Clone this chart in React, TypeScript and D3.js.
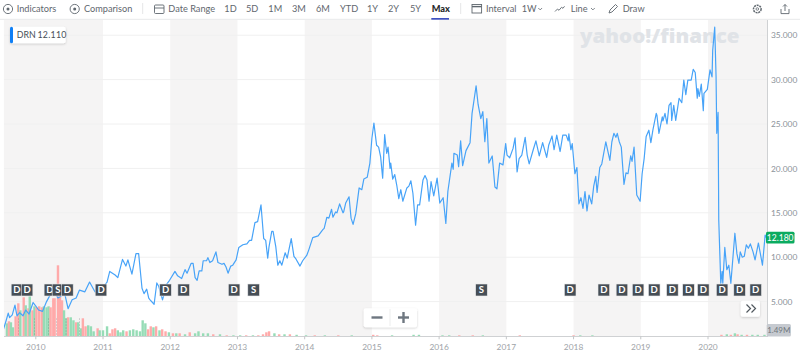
import React from "react";
import * as d3 from "d3";

type P = [number, number];
const line2009to2011: P[] = [[2009.52,1.9],[2009.56,2.9],[2009.59,3.7],[2009.61,3.2],[2009.65,3.5],[2009.69,4.6],[2009.72,3.4],[2009.76,3.75],[2009.81,3.4],[2009.85,4.05],[2009.9,3.6],[2009.96,4.9],[2010,4.5],[2010.04,4.05],[2010.1,3.9],[2010.16,5],[2010.21,5.7],[2010.28,6.1],[2010.33,5.4],[2010.39,5.7],[2010.43,5.9],[2010.48,4.2],[2010.54,5.2],[2010.6,5.4],[2010.65,6.3],[2010.73,6.1],[2010.8,7.2],[2010.88,6.1],[2010.95,6.1],[2011.06,7.2],[2011.1,8.4],[2011.18,8],[2011.22,7.7],[2011.29,9.75],[2011.34,9],[2011.37,9.7],[2011.43,8.1],[2011.49,10.4],[2011.53,10.4],[2011.58,6.5],[2011.61,5.9],[2011.65,6.4],[2011.68,5.4],[2011.7,5.2],[2011.76,4.7],[2011.8,7.1],[2011.83,6.7],[2011.885,5.2],[2011.95,7]];
const line2012to2013: P[] = [[2011.99,7.4],[2012.07,8.4],[2012.11,7.9],[2012.17,7.6],[2012.22,8.6],[2012.25,8.2],[2012.31,9.3],[2012.34,9.3],[2012.37,7.7],[2012.4,7.4],[2012.43,8.45],[2012.47,8.45],[2012.49,9.6],[2012.54,9.6],[2012.56,9.95],[2012.59,9.4],[2012.63,9.6],[2012.68,10.6],[2012.71,9.4],[2012.77,9.2],[2012.8,9.3],[2012.83,8.9],[2012.86,8.2],[2012.9,9],[2012.93,9.1],[2012.98,9.7],[2013.02,11.1],[2013.08,11.4],[2013.14,11.5],[2013.18,11.9],[2013.21,11.9],[2013.26,13.9],[2013.3,14],[2013.35,15.9],[2013.39,12.1],[2013.42,11.9],[2013.45,9.9],[2013.47,11.2],[2013.51,12.9],[2013.53,12.9],[2013.57,11.2],[2013.6,9.1],[2013.63,9.6],[2013.66,9.1],[2013.71,10.5],[2013.74,9.9],[2013.8,12.1],[2013.84,10.1],[2013.87,9.8],[2013.93,9],[2013.97,9.6]];
const line2014to2015: P[] = [[2014.03,10.2],[2014.06,10.8],[2014.12,12.2],[2014.2,12.4],[2014.27,13.1],[2014.29,13.25],[2014.33,14.5],[2014.36,14.4],[2014.4,15.4],[2014.42,14.5],[2014.46,15.1],[2014.48,15],[2014.52,16],[2014.57,15],[2014.58,15.1],[2014.61,16.1],[2014.66,16.8],[2014.69,14.4],[2014.72,13.7],[2014.76,14.9],[2014.81,17.8],[2014.85,17.6],[2014.88,18.8],[2014.93,19],[2014.97,20.6],[2015,23.4],[2015.03,25.1],[2015.07,22.6],[2015.1,22.4],[2015.13,21.3],[2015.16,18.9],[2015.19,23.8],[2015.22,21.7],[2015.24,22.4],[2015.27,20],[2015.28,20.6],[2015.31,18.8],[2015.34,19.3],[2015.37,18.1],[2015.4,16.6],[2015.43,17.6],[2015.46,16.3],[2015.52,17.8],[2015.55,18],[2015.58,18.6],[2015.61,17.2],[2015.65,13.6],[2015.68,15.9],[2015.71,15.9],[2015.76,18.7],[2015.79,19.2],[2015.82,18.7],[2015.85,16.3],[2015.88,18.5],[2015.92,16.9],[2015.97,18.9]];
const line2016to2017: P[] = [[2016.01,16.1],[2016.06,16.7],[2016.1,13.8],[2016.13,17.4],[2016.19,20.6],[2016.21,19.9],[2016.22,21.7],[2016.27,21.5],[2016.29,20.2],[2016.32,23.1],[2016.35,20.3],[2016.4,22],[2016.46,22.9],[2016.49,26.2],[2016.51,27.2],[2016.55,29.3],[2016.58,27.2],[2016.62,25.6],[2016.65,26.4],[2016.68,23],[2016.71,25.6],[2016.74,20.6],[2016.79,21.4],[2016.83,17.9],[2016.86,17.7],[2016.9,20.6],[2016.95,20.4],[2016.99,22.8],[2017.01,21.5],[2017.05,21.2],[2017.1,22.25],[2017.13,23.45],[2017.16,19.6],[2017.19,21.1],[2017.23,21.5],[2017.28,23.5],[2017.31,21.5],[2017.34,20.5],[2017.4,22.1],[2017.44,23.1],[2017.49,21.4],[2017.54,22.9],[2017.6,21.25],[2017.63,22.6],[2017.68,23.65],[2017.71,22.1],[2017.75,23.75],[2017.8,21.9],[2017.84,23.75],[2017.89,23.75],[2017.92,23.1],[2017.93,23.9],[2017.96,22.1],[2017.98,22.8]];
const line2018to2019: P[] = [[2018.02,19.4],[2018.05,20.1],[2018.08,16],[2018.11,16.7],[2018.14,15.5],[2018.17,17.4],[2018.2,15.2],[2018.23,17],[2018.27,16],[2018.3,18],[2018.33,19.1],[2018.35,17.3],[2018.39,20.1],[2018.42,20.5],[2018.48,23],[2018.54,20.9],[2018.57,23],[2018.6,23.95],[2018.63,23.5],[2018.65,23.95],[2018.68,23],[2018.71,22.4],[2018.75,18.2],[2018.78,19.5],[2018.81,19.4],[2018.85,21.4],[2018.87,20.8],[2018.9,22.4],[2018.94,17],[2018.99,16.3],[2019.02,19.4],[2019.05,21.1],[2019.08,23.6],[2019.12,24.3],[2019.15,22.9],[2019.18,24.3],[2019.23,26.2],[2019.24,26],[2019.27,23.95],[2019.32,25.8],[2019.33,25.35],[2019.36,26.2],[2019.39,25],[2019.42,27.1],[2019.45,27.4],[2019.46,25.4],[2019.49,27.1],[2019.52,25.4],[2019.57,27.9],[2019.61,27.4],[2019.64,29.95],[2019.67,28.3],[2019.7,29.95],[2019.75,29.95],[2019.78,31.15],[2019.81,30.8],[2019.84,27.9],[2019.85,29],[2019.87,28.1],[2019.9,29.5],[2019.93,26.5],[2019.94,28.45],[2019.99,28.9]];
const line2020: P[] = [[2020.03,31.1],[2020.06,30.3],[2020.07,33.3],[2020.1,35.9],[2020.12,30.3],[2020.13,23.95],[2020.15,26.3],[2020.16,14.2],[2020.19,7.06],[2020.21,8.4],[2020.22,7.06],[2020.25,11.1],[2020.28,8.6],[2020.31,9.1],[2020.34,7.06],[2020.4,12.7],[2020.43,10.4],[2020.46,9.3],[2020.48,10.6],[2020.51,10],[2020.54,10.1],[2020.57,11.4],[2020.6,11],[2020.63,11.5],[2020.67,10.6],[2020.7,9.7],[2020.75,11.6],[2020.81,9.1],[2020.85,12.5],[2020.87,12.18]];
const priceLine: P[] = [...line2009to2011, ...line2012to2013, ...line2014to2015, ...line2016to2017, ...line2018to2019, ...line2020];

type V = [number, number, number];
const volume2009to2010: V[] = [[2009.57,13,1],[2009.6,15,0],[2009.63,14,1],[2009.66,9,1],[2009.7,20,0],[2009.74,33,0],[2009.77,26,1],[2009.82,39,0],[2009.85,31,1],[2009.89,28,0],[2009.91,40,1],[2009.95,26,0],[2009.98,30,1],[2010.01,29,0],[2010.05,30,0],[2010.09,29,0],[2010.12,30,1],[2010.16,29,1],[2010.19,30,1],[2010.22,29,0],[2010.26,38,0],[2010.28,38,0],[2010.33,71,0],[2010.36,40,0],[2010.39,36,0],[2010.42,26,1],[2010.45,18,1],[2010.48,19,0],[2010.52,19,1],[2010.56,16,1],[2010.6,14,0],[2010.63,14,1],[2010.67,8,1],[2010.7,18,0],[2010.74,10,0],[2010.78,11,1],[2010.82,10,1],[2010.86,5,1],[2010.92,8,0],[2010.95,6,1]];
const volume2011to2012: V[] = [[2011,6,1],[2011.06,10,1],[2011.1,3,0],[2011.14,7,0],[2011.18,8,0],[2011.22,6,1],[2011.26,4,1],[2011.3,6,1],[2011.35,5,0],[2011.4,6,1],[2011.45,7,1],[2011.5,6,1],[2011.55,5,1],[2011.59,16,1],[2011.63,13,1],[2011.67,7,0],[2011.71,10,0],[2011.75,9,1],[2011.79,10,0],[2011.84,6,1],[2011.88,7,0],[2011.93,5,0],[2011.98,4,1],[2012.04,3,0],[2012.09,3,1],[2012.14,3,0],[2012.22,2,1],[2012.29,4,0],[2012.37,3,1],[2012.42,5,1],[2012.49,3,1],[2012.56,3,1],[2012.64,2,0],[2012.74,2,1],[2012.84,1,0],[2012.94,1,1]];
const volume2013to2020: V[] = [[2013.04,1,1],[2013.13,1,0],[2013.23,1,1],[2013.31,1,0],[2013.38,2,0],[2013.43,4,0],[2013.47,5,0],[2013.55,3,1],[2013.62,2,0],[2013.7,2,1],[2013.78,2,0],[2013.88,1.5,1],[2014.02,1,1],[2014.15,1,0],[2014.3,1,1],[2014.5,1,0],[2014.7,1,1],[2015.02,1.5,0],[2015.08,1,0],[2015.3,1,1],[2015.62,1.5,1],[2015.7,1.5,1],[2016.05,1,1],[2016.15,1,1],[2016.3,1,0],[2016.5,1,0],[2016.65,1,1],[2017.2,1,0],[2018,1,0],[2018.1,1,1],[2018.28,1,1],[2020.2,1.5,0],[2020.28,2,1],[2020.34,1.5,0],[2020.4,3,1],[2020.44,2,0],[2020.5,1.5,1],[2020.58,1.5,0],[2020.66,1.5,1],[2020.74,1.5,1],[2020.84,1.49,1]];
const volumeBars: V[] = [...volume2009to2010, ...volume2011to2012, ...volume2013to2020];

const flagDates = [2009.72,2009.87,2010.21,2010.33,2010.47,2010.97,2011.93,2012.2,2012.95,2013.24,2016.63,2017.95,2018.45,2018.72,2018.96,2019.2,2019.47,2019.71,2019.93,2020.21,2020.47,2020.71];
const flagKinds = ["D","D","D","S","D","D","D","D","D","S","S","D","D","D","D","D","D","D","D","D","D","D"];
const dashDates = [2009.74,2009.98,2010.19,2010.31,2010.45,2010.65];
const yearTicks = [2010,2011,2012,2013,2014,2015,2016,2017,2018,2019,2020];
const priceTicks = [5,10,15,20,25,30,35];
const bandEdges: [number, number][] = [[2009.525,2011],[2012,2013],[2014,2015],[2016,2017],[2018,2019],[2020,2020.89]];
const rangeLabels: [string, number][] = [["1D",224.3],["5D",246],["1M",268.3],["3M",292],["6M",316],["YTD",340],["1Y",367],["2Y",388],["5Y",410]];

const x = d3.scaleLinear().domain([2010, 2020]).range([35.8, 708]);
const y = d3.scaleLinear().domain([5, 35]).range([301.6, 35.2]);
const baseY = 336.3;
const v = d3.scaleLinear().domain([0, 80]).range([baseY, baseY - 80]);
const pathD = d3.line<P>().x(d => x(d[0])).y(d => y(d[1]))(priceLine) as string;

const FONT = "Lato, 'Open Sans', sans-serif";
const UI = "#5f676e";

export default function App() {
  const T = (s: string, tx: number, extra: any = {}) => (
    <text x={tx} y={12.3} fontSize={9.2} fill={UI} fontFamily={FONT} {...extra}>{s}</text>
  );
  return (
    <svg width={800} height={355} style={{ position: "absolute", left: 0, top: 0, background: "#fff" }} shapeRendering="geometricPrecision">
      <defs>
        <filter id="sh" x="-20%" y="-20%" width="140%" height="150%">
          <feDropShadow dx="0" dy="1" stdDeviation="1" floodColor="#000" floodOpacity="0.18" />
        </filter>
        <clipPath id="plot"><rect x={4} y={20} width={763.5} height={317} /></clipPath>
      </defs>

      {bandEdges.map(([a, b]) => (
        <rect key={a} x={x(a)} y={20} width={x(b) - x(a)} height={baseY - 20} fill="#f5f4f4" />
      ))}
      {priceTicks.map(t => (
        <line key={t} x1={4} x2={767} y1={y(t)} y2={y(t)} stroke="#f0f0f0" strokeWidth={1} />
      ))}

      <text x={580} y={42.5} fontSize={20} fontWeight={800} fill="#e0e3e7" fontFamily="'Open Sans', sans-serif" textLength={159.5} lengthAdjust="spacingAndGlyphs">yahoo!/finance</text>

      <g clipPath="url(#plot)">
        {volumeBars.map(([d, m, up]) => (
          <rect key={d} x={x(d) - 1.2} y={v(m)} width={2.4} height={baseY - v(m)} fill={up ? "#96dcb6" : "#ffaaaa"} />
        ))}
        {dashDates.map(d => (
          <line key={d} x1={x(d)} x2={x(d)} y1={baseY - 18} y2={baseY} stroke="#5a5f63" strokeWidth={0.6} strokeDasharray="1.5 1.5" opacity={0.5} />
        ))}
        <path d={pathD} fill="none" stroke="#47a3f8" strokeWidth={1.2} strokeLinejoin="round" />
      </g>

      <line x1={4} x2={768} y1={baseY + 0.2} y2={baseY + 0.2} stroke="#cfd1d3" strokeWidth={1} />
      <line x1={767.5} x2={767.5} y1={20} y2={337} stroke="#cfd1d3" strokeWidth={1} />
      {yearTicks.map(t => (
        <g key={t}>
          <line x1={x(t)} x2={x(t)} y1={baseY} y2={baseY + 3} stroke="#c4c6c8" />
          <text x={x(t)} y={350} fontSize={8.4} fill="#9ea3a8" textAnchor="middle" fontFamily={FONT}>{t}</text>
        </g>
      ))}
      {priceTicks.map(t => (
        <text key={t} x={771} y={y(t) + 3.1} fontSize={8.4} fill="#8b9299" fontFamily={FONT}>{d3.format(".3f")(t)}</text>
      ))}

      {flagDates.map((d, i) => (
        <g key={d}>
          <rect x={x(d) - 5.8} y={284} width={11.6} height={12} fill="#464e56" stroke="#e9eaeb" strokeWidth={0.6} />
          <text x={x(d)} y={293.4} fontSize={9.5} fill="#fff" textAnchor="middle" fontFamily={FONT} fontWeight={700}>{flagKinds[i]}</text>
        </g>
      ))}

      <rect x={10} y={26.7} width={55.7} height={16.6} rx={2} fill="#fff" filter="url(#sh)" />
      <rect x={10} y={26.7} width={3} height={16.6} rx={1.5} fill="#0f7ff5" />
      <text x={16.7} y={38.2} fontSize={8.8} fill="#464e56" fontFamily={FONT}>DRN</text>
      <text x={37.4} y={38.2} fontSize={8.8} fill="#464e56" fontFamily={FONT} letterSpacing={0.3}>12.110</text>

      <rect x={766} y={231.7} width={28.5} height={11.8} rx={1.5} fill="#0bab60" />
      <text x={780.2} y={240.7} fontSize={8.5} fill="#fff" textAnchor="middle" fontFamily={FONT}>12.180</text>
      <rect x={766.7} y={324} width={24.2} height={12.4} rx={1.5} fill="#c6cad0" />
      <text x={778.8} y={333.3} fontSize={8} fill="#70767c" textAnchor="middle" fontFamily={FONT}>1.49M</text>

      <rect x={363.7} y={308.3} width={53.3} height={19} rx={2} fill="#fff" filter="url(#sh)" />
      <line x1={390} x2={390} y1={309} y2={326} stroke="#eceded" />
      <rect x={371.5} y={316.3} width={11} height={2.4} fill="#6e7780" />
      <rect x={398} y={316.3} width={11} height={2.4} fill="#6e7780" />
      <rect x={402.3} y={312} width={2.4} height={11} fill="#6e7780" />

      <rect x={740.7} y={300.7} width={19.3} height={16} rx={2} fill="#fff" filter="url(#sh)" />
      <path d="M746.5 304.5l4 4-4 4M751.5 304.5l4 4-4 4" fill="none" stroke="#50575e" strokeWidth={1.2} />

      {/* toolbar */}
      <line x1={0} x2={800} y1={19.3} y2={19.3} stroke="#e8e9ea" strokeWidth={1} />
      <circle cx={8} cy={9} r={4.6} fill="none" stroke={UI} strokeWidth={0.9} />
      <circle cx={8} cy={9} r={1.5} fill={UI} />
      {T("Indicators", 16.7)}
      <circle cx={74.7} cy={9} r={4.6} fill="none" stroke={UI} strokeWidth={0.9} />
      <circle cx={74.7} cy={9} r={1.5} fill={UI} />
      {T("Comparison", 84)}
      <line x1={142.7} x2={142.7} y1={3} y2={14} stroke="#e5e6e7" />
      <rect x={154.5} y={5} width={9.5} height={8.5} rx={1} fill="none" stroke={UI} strokeWidth={0.9} />
      <line x1={154.5} x2={164} y1={8} y2={8} stroke={UI} strokeWidth={0.9} />
      {T("Date Range", 168.3)}
      {rangeLabels.map(([s, tx]) => <g key={s}>{T(s, tx)}</g>)}
      {T("Max", 431.7, { fontWeight: 900, fill: "#26282a" })}
      <rect x={431.3} y={18} width={17.7} height={1.7} fill="#3f51c0" />
      <line x1={460.7} x2={460.7} y1={3} y2={14} stroke="#e5e6e7" />
      <rect x={472} y={4.5} width={9.6} height={8.5} fill="none" stroke={UI} strokeWidth={0.9} />
      <line x1={472} x2={481.6} y1={6.6} y2={6.6} stroke={UI} strokeWidth={1.4} />
      {T("Interval", 486)}
      {T("1W", 521.7)}
      <path d="M538.3 8l1.9 1.9 1.9-1.9" fill="none" stroke={UI} strokeWidth={0.8} />
      <path d="M555 11.5l2.5-2.5 1.5 1.3 2.5-3 1.5 1 1.5-2" fill="none" stroke={UI} strokeWidth={0.9} />
      {T("Line", 570.7)}
      <path d="M591 8l1.9 1.9 1.9-1.9" fill="none" stroke={UI} strokeWidth={0.8} />
      <path d="M609 13l1-3 5.5-5.5 2 2-5.5 5.5z" fill="none" stroke={UI} strokeWidth={0.9} />
      {T("Draw", 622.7)}
      <circle cx={757.3} cy={9} r={3.8} fill="none" stroke={UI} strokeWidth={1.5} strokeDasharray="2 0.8" />
      <circle cx={757.3} cy={9} r={1.3} fill="none" stroke={UI} strokeWidth={0.8} />
      <path d="M781 9v4.6h8V9M785 11V4.5M783 6.5l2-2 2 2" fill="none" stroke={UI} strokeWidth={0.9} />
    </svg>
  );
}
